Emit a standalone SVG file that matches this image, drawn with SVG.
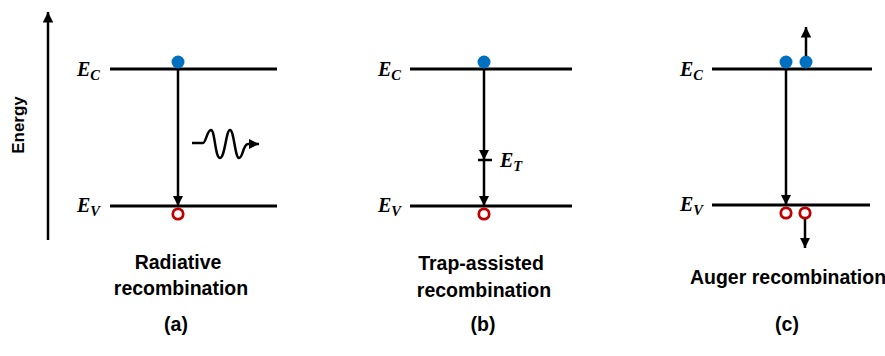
<svg xmlns="http://www.w3.org/2000/svg" width="885" height="356" viewBox="0 0 885 356">
<defs>
<marker id="ah" viewBox="0 0 10 10" refX="10" refY="5" markerWidth="4.2" markerHeight="4.2" markerUnits="strokeWidth" orient="auto">
<path d="M0,0 L10,5 L0,10 z" fill="#000"/>
</marker>
<style>
.lvl{stroke:#000;stroke-width:3;fill:none}
.arr{stroke:#000;stroke-width:2.5;fill:none}
.e{fill:#0070C0}
.h{fill:none;stroke:#C00000;stroke-width:2.8}
.lab{font-family:"Liberation Serif",serif;font-weight:bold;font-style:italic;font-size:20px;fill:#000}
.sub{font-size:14.5px}
.txt{font-family:"Liberation Sans",Arial,sans-serif;font-weight:bold;font-size:19.5px;fill:#000;text-anchor:middle}
</style>
</defs>
<rect width="885" height="356" fill="#fff"/>

<g id="energy-axis">
<line x1="48" y1="240" x2="48" y2="12" class="arr" stroke-width="3" marker-end="url(#ah)"/>
<text x="18" y="125" transform="rotate(-90 18 125)" font-family="Liberation Sans,Arial,sans-serif" font-weight="bold" font-size="17" text-anchor="middle" dominant-baseline="central">Energy</text>
</g>

<g id="panel-a">
<line x1="110" y1="69" x2="277" y2="69" class="lvl"/>
<line x1="110" y1="206" x2="277" y2="206" class="lvl"/>
<text class="lab" x="77" y="76">E<tspan class="sub" dy="4">C</tspan></text>
<text class="lab" x="77" y="212">E<tspan class="sub" dy="4">V</tspan></text>
<circle class="e" cx="178" cy="62" r="6.5"/>
<circle class="h" cx="178" cy="214" r="5.2"/>
<text class="txt" x="178" y="269">Radiative</text>
<text class="txt" x="181" y="295">recombination</text>
<text class="txt" x="176" y="331">(a)</text>
</g>

<g id="panel-b">
<line x1="410" y1="69" x2="572" y2="69" class="lvl"/>
<line x1="410" y1="206" x2="572" y2="206" class="lvl"/>
<text class="lab" x="378" y="76">E<tspan class="sub" dy="4">C</tspan></text>
<text class="lab" x="378" y="212">E<tspan class="sub" dy="4">V</tspan></text>
<line x1="478" y1="160" x2="492" y2="160" class="arr"/>
<text class="lab" x="500" y="167">E<tspan class="sub" dy="4">T</tspan></text>
<circle class="e" cx="484" cy="62" r="6.5"/>
<circle class="h" cx="484" cy="214" r="5.2"/>
<text class="txt" x="481" y="270">Trap-assisted</text>
<text class="txt" x="484" y="297">recombination</text>
<text class="txt" x="483" y="331">(b)</text>
</g>

<g id="panel-c">
<line x1="712" y1="69" x2="872" y2="69" class="lvl"/>
<line x1="712" y1="205" x2="870" y2="205" class="lvl"/>
<text class="lab" x="680" y="76">E<tspan class="sub" dy="4">C</tspan></text>
<text class="lab" x="680" y="211">E<tspan class="sub" dy="4">V</tspan></text>
<circle class="e" cx="786" cy="62" r="6.5"/>
<circle class="e" cx="806" cy="62" r="6.5"/>
<circle class="h" cx="786" cy="213" r="5.2"/>
<circle class="h" cx="805" cy="213" r="5.2"/>
<text class="txt" x="788" y="284">Auger recombination</text>
<text class="txt" x="787" y="331">(c)</text>
</g>

<g id="connectors">
<line x1="178" y1="69" x2="178" y2="206" class="arr" marker-end="url(#ah)"/>
<path d="M192,143 H203 C206,143 207,130 211,130 C215,130 215,158 220,158 C225,158 226,130 230,130 C234,130 235,158 239,158 C243,158 243,144 248,144 H259" class="arr" stroke-width="2.8" marker-end="url(#ah)"/>
<line x1="484" y1="69" x2="484" y2="160" class="arr" marker-end="url(#ah)"/>
<line x1="484" y1="160" x2="484" y2="206" class="arr" marker-end="url(#ah)"/>
<line x1="786" y1="69" x2="786" y2="205" class="arr" marker-end="url(#ah)"/>
<line x1="806" y1="56" x2="806" y2="27" class="arr" marker-end="url(#ah)"/>
<line x1="805" y1="219" x2="805" y2="248" class="arr" marker-end="url(#ah)"/>
</g>
</svg>
